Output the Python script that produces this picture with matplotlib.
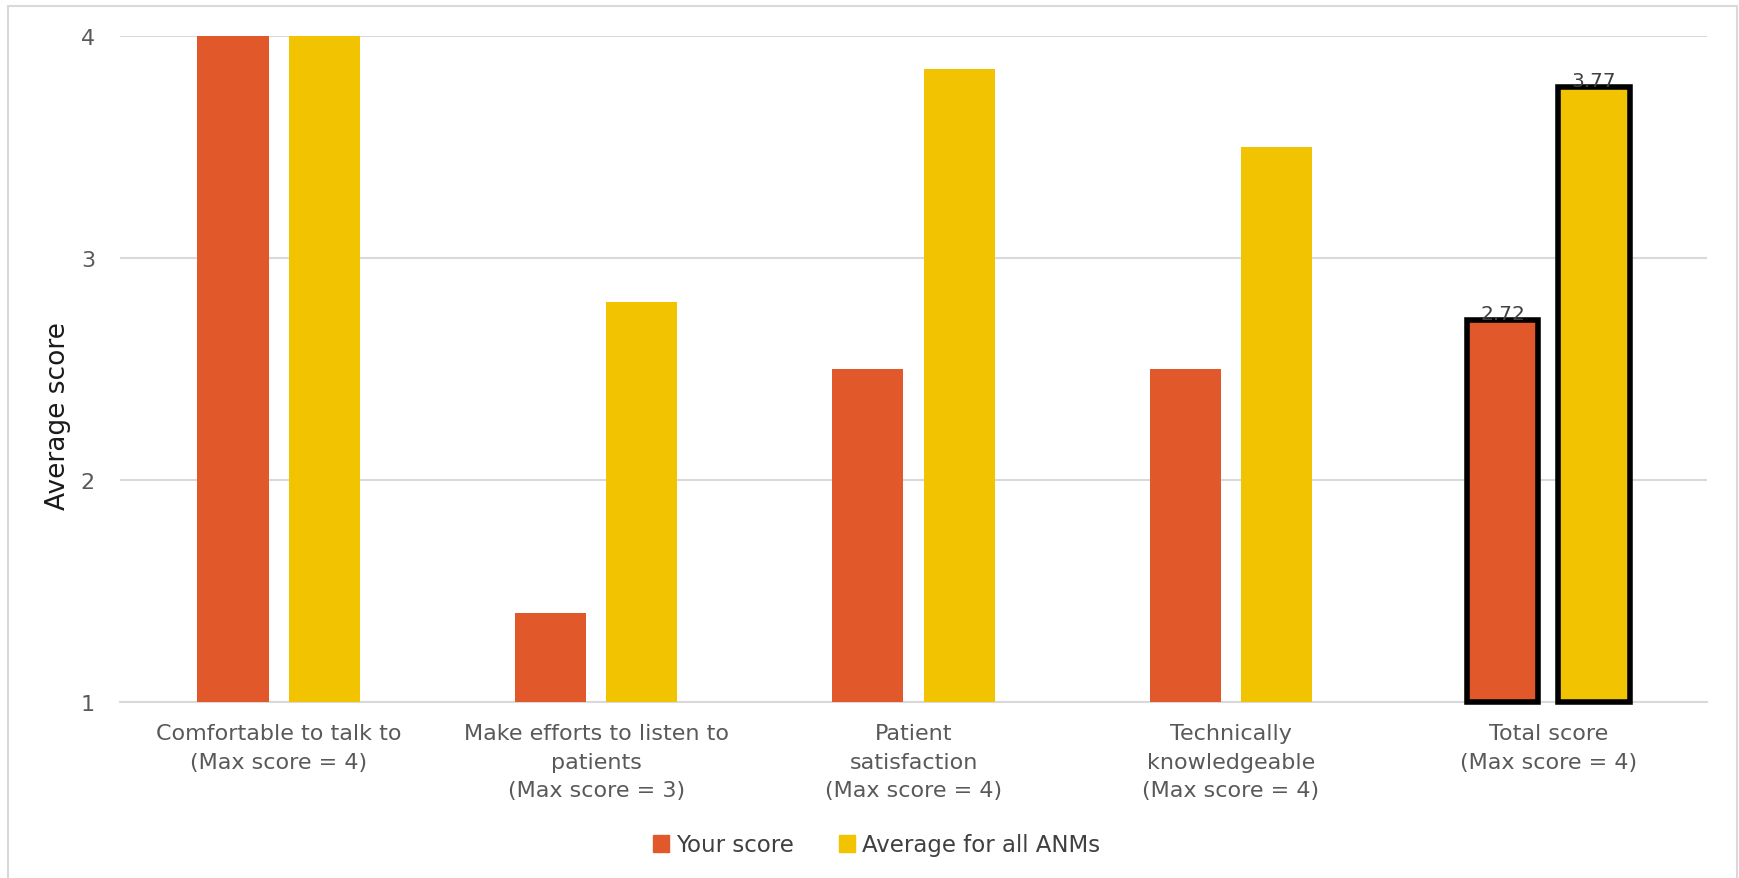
import numpy as np
import matplotlib.pyplot as plt
from matplotlib.patches import Patch, Rectangle

# DATA
categories = [
    "Comfortable to talk to\n(Max score = 4)",
    "Make efforts to listen to\npatients\n(Max score = 3)",
    "Patient\nsatisfaction\n(Max score = 4)",
    "Technically\nknowledgeable\n(Max score = 4)",
    "Total score\n(Max score = 4)",
]
your_score = [4.0, 1.4, 2.5, 2.5, 2.72]
avg_all_anms = [4.0, 2.8, 3.85, 3.5, 3.77]
series_names = ["Your score", "Average for all ANMs"]
yticks = [1, 2, 3, 4]

c_orange = "#E1592A"
c_yellow = "#F2C300"
grid_c = "#D9D9D9"
tick_c = "#595959"

plt.rcParams['font.family'] = ['DejaVu Sans']

fig = plt.figure(figsize=(17.39, 8.79), dpi=100)
ax = fig.add_axes([120 / 1739, 1 - 703 / 879, (1707 - 120) / 1739, (703 - 37) / 879])

x = np.arange(len(categories))
w = 0.224
off = 0.144
base = 1

b1 = ax.bar(x - off, np.array(your_score) - base, w, bottom=base, color=c_orange, zorder=3)
b2 = ax.bar(x + off, np.array(avg_all_anms) - base, w, bottom=base, color=c_yellow, zorder=3)

# highlight the total score bars
last = len(categories) - 1
for bars, vals in ((b1, your_score), (b2, avg_all_anms)):
    p = bars[last]
    p.set_edgecolor("black")
    p.set_linewidth(4)
    p.set_clip_on(False)
    ax.annotate(f"{vals[last]:.2f}", (p.get_x() + p.get_width() / 2, vals[last]),
                xytext=(0, -2), textcoords="offset points", ha="center", va="bottom",
                fontsize=14.5, color="#404040", zorder=5)

ax.set_xlim(-0.5, len(categories) - 0.5)
ax.set_ylim(1, 4)
ax.set_yticks(yticks)
ax.set_xticks(x)
ax.set_xticklabels(categories, fontsize=16, color=tick_c, linespacing=1.55)
ax.tick_params(axis="y", labelsize=16, labelcolor=tick_c, length=0, pad=18)
ax.tick_params(axis="x", length=0, pad=15)
ax.grid(axis="y", color=grid_c, linewidth=1.5, zorder=0)
for s in ("top", "right", "left"):
    ax.spines[s].set_visible(False)
ax.spines["bottom"].set_color(grid_c)
ax.spines["bottom"].set_linewidth(1.5)
ax.spines["bottom"].set_zorder(2)

fig.text(58 / 1739, 1 - 416 / 879, "Average score", rotation=90, ha="center", va="center",
         fontsize=19, color="#1a1a1a", family=['Liberation Sans Narrow', 'DejaVu Sans'])

handles = [Patch(color=c_orange), Patch(color=c_yellow)]
fig.legend(handles, series_names, loc="center", bbox_to_anchor=(0.504, 1 - 846 / 879),
           ncol=2, frameon=False, fontsize=16.5, handlelength=0.7, handleheight=0.7,
           handletextpad=0.3, columnspacing=2.0, labelcolor="#404040")

# light chart border
fig.patches.append(Rectangle((8 / 1739, -0.01), (1737 - 8) / 1739, 1 - 7 / 879 + 0.01,
                             transform=fig.transFigure, fill=False, edgecolor=grid_c, linewidth=1.5))

fig.savefig("out.png", dpi=100)
